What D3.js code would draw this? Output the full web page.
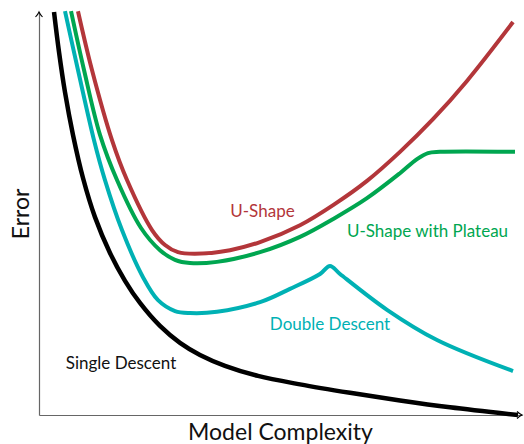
<!DOCTYPE html>
<html>
<head>
<meta charset="utf-8">
<script src="https://cdn.jsdelivr.net/npm/d3@7"></script>
<style>
  html, body { margin: 0; padding: 0; background: #fff; }
  svg { display: block; }
  text { font-family: Lato, "Liberation Sans", sans-serif; }
</style>
</head>
<body>
<svg id="chart" width="524" height="444"></svg>
<script>
// Data (arbitrary units: complexity 0..100, error 0..100)
const singleDescentX = [3.11, 4.14, 5.38, 7.04, 9.11, 11.59, 14.70, 17.81, 20.91, 25.05, 29.19, 33.33, 38.51, 45.34, 54.04, 64.39, 74.74, 85.09, 99.17];
const singleDescentY = [100.0, 90.1, 80.1, 69.5, 58.8, 49.1, 40.2, 33.3, 27.8, 22.1, 17.9, 14.9, 12.2, 9.7, 7.6, 5.5, 3.6, 1.9, 0.0];

const doubleDescentX = [5.38, 8.07, 11.39, 13.66, 17.18, 21.53, 24.64, 28.16, 31.26, 36.85, 45.76, 51.97, 58.18, 60.25, 62.32, 72.05, 82.40, 98.14];
const doubleDescentY = [100.2, 85.6, 68.2, 58.3, 45.9, 34.2, 28.5, 25.8, 25.3, 25.6, 28.0, 31.3, 35.0, 37.0, 35.0, 26.1, 18.6, 10.9];

const plateauX = [6.63, 9.32, 12.63, 16.15, 21.12, 25.05, 28.16, 31.26, 36.85, 45.76, 54.04, 61.28, 67.91, 74.74, 78.26, 80.54, 83.02, 98.55];
const plateauY = [100.2, 85.6, 69.5, 58.3, 46.4, 40.9, 38.5, 37.7, 38.0, 40.4, 44.2, 48.9, 53.8, 60.0, 63.5, 65.0, 65.3, 65.3];

const uShapeX = [8.07, 10.97, 15.11, 18.22, 23.40, 26.09, 28.78, 32.30, 39.54, 45.76, 54.04, 61.28, 67.91, 74.74, 81.57, 88.61, 98.14];
const uShapeY = [100.2, 85.6, 68.2, 58.3, 45.9, 42.2, 40.4, 40.0, 40.9, 42.9, 47.1, 52.4, 58.1, 65.3, 73.4, 82.9, 97.5];

const seriesNames = ["Single Descent", "Double Descent", "U-Shape with Plateau", "U-Shape"];
const seriesColors = ["#000000", "#00b1b4", "#00a650", "#b3363a"];
const labelX = [16.98, 60.25, 80.43, 46.27];
const labelY = [11.4, 21.1, 44.2, 49.1];
const xTitle = "Model Complexity";
const yTitle = "Error";

const svg = d3.select("#chart");
const x = d3.scaleLinear().domain([0, 100]).range([39, 522]);
const y = d3.scaleLinear().domain([0, 100]).range([415, 12]);

// axes (no ticks)
svg.append("g").attr("transform", `translate(0,${y(0)})`)
  .call(d3.axisBottom(x).ticks(0).tickSizeOuter(0));
svg.append("g").attr("transform", `translate(${x(0)},0)`)
  .call(d3.axisLeft(y).ticks(0).tickSizeOuter(0));
svg.selectAll(".domain").attr("stroke", "#666").attr("stroke-width", 1.2);

// arrowheads
const xEnd = x(100), yEnd = y(100), x0 = x(0), y0 = y(0);
svg.append("path")
  .attr("d", `M${xEnd-5},${y0-3.5} Q${xEnd-2},${y0-0.8} ${xEnd},${y0} Q${xEnd-2},${y0+0.8} ${xEnd-5},${y0+3.5}`)
  .attr("fill", "none").attr("stroke", "#000").attr("stroke-width", 1.1);
svg.append("path")
  .attr("d", `M${x0-3.5},${yEnd+5} Q${x0-0.8},${yEnd+2} ${x0},${yEnd} Q${x0+0.8},${yEnd+2} ${x0+3.5},${yEnd+5}`)
  .attr("fill", "none").attr("stroke", "#000").attr("stroke-width", 1.1);

const series = [
  [singleDescentX, singleDescentY],
  [doubleDescentX, doubleDescentY],
  [plateauX, plateauY],
  [uShapeX, uShapeY]
];

const line = d3.line().x(d => x(d[0])).y(d => y(d[1])).curve(d3.curveCatmullRom.alpha(0.5));

series.forEach(([xs, ys], i) => {
  const pts = xs.map((v, j) => [v, ys[j]]);
  svg.append("path")
    .datum(pts)
    .attr("d", line)
    .attr("fill", "none")
    .attr("stroke", seriesColors[i])
    .attr("stroke-width", i === 0 ? 4.5 : 4)
    .attr("stroke-linejoin", "round")
    .attr("stroke-linecap", "butt");
});

// series labels
seriesNames.forEach((name, i) => {
  svg.append("text")
    .attr("x", x(labelX[i]))
    .attr("y", y(labelY[i]))
    .attr("text-anchor", "middle")
    .attr("font-size", 17)
    .attr("fill", seriesColors[i] === "#000000" ? "#111" : seriesColors[i])
    .text(name);
});

// axis titles
svg.append("text")
  .attr("x", 280.5).attr("y", 440)
  .attr("text-anchor", "middle")
  .attr("font-size", 23)
  .attr("fill", "#111")
  .text(xTitle);
svg.append("text")
  .attr("transform", "translate(29,214) rotate(-90)")
  .attr("text-anchor", "middle")
  .attr("font-size", 23)
  .attr("fill", "#111")
  .text(yTitle);
</script>
</body>
</html>
